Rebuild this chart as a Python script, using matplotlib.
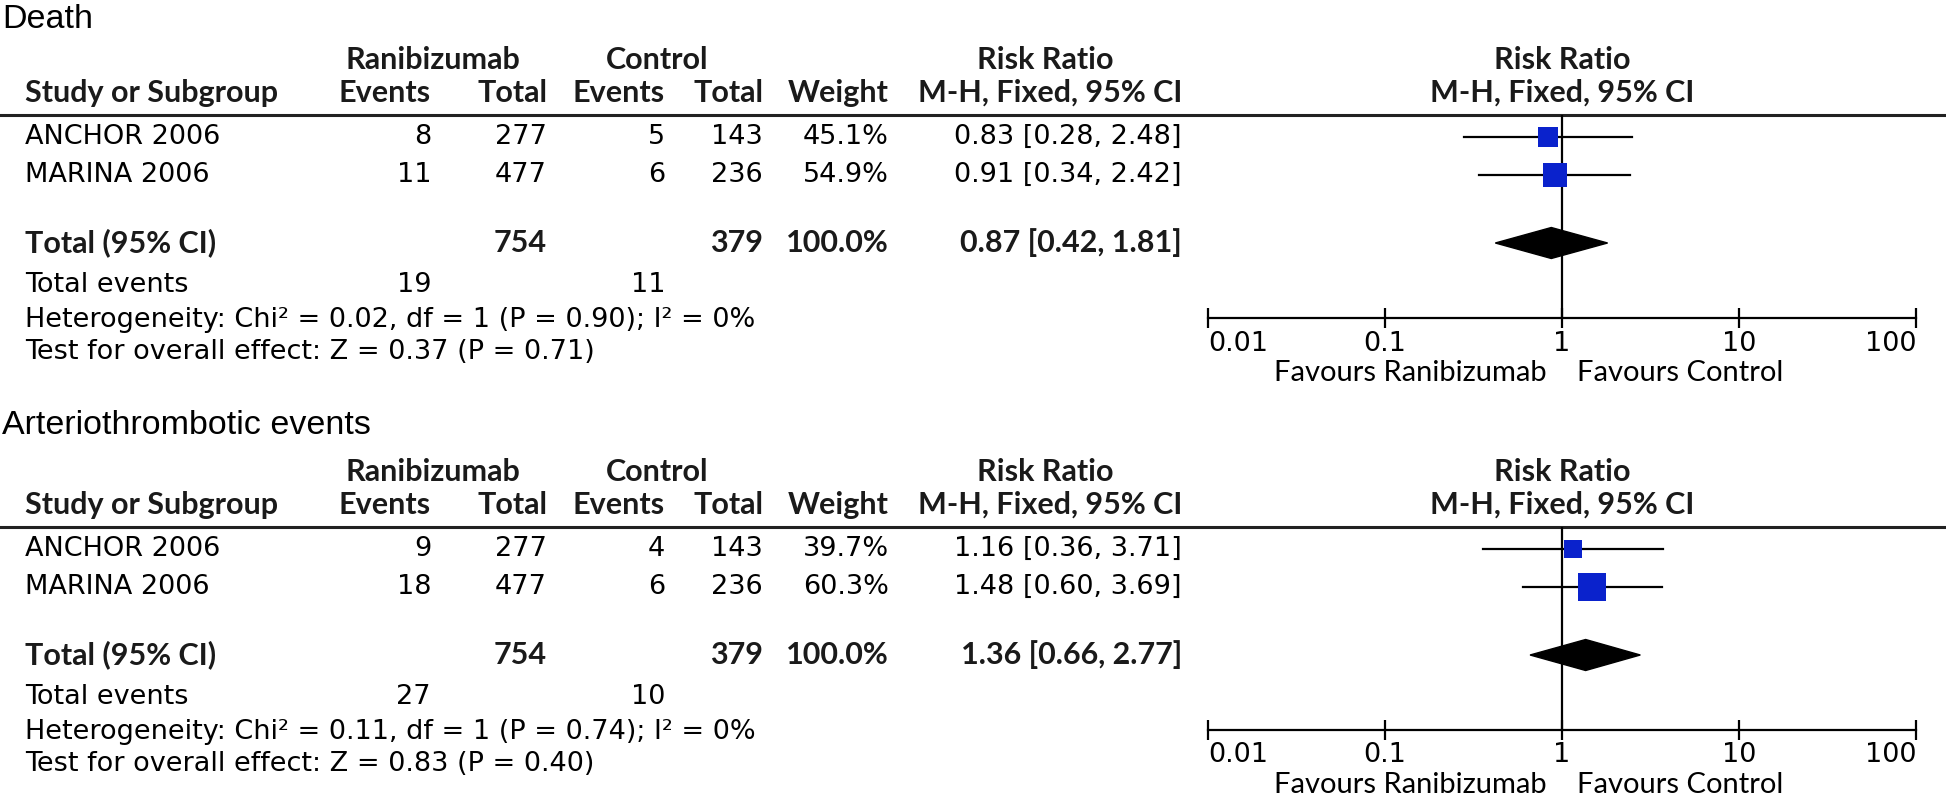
import matplotlib
matplotlib.use("Agg")
from matplotlib import pyplot as plt
from matplotlib.patches import Polygon

# data
titles = ["Death", "Arteriothrombotic events"]
studies = ["ANCHOR 2006", "MARINA 2006"]
ran_total = [277, 477]
ctl_total = [143, 236]

ran_events = [[8, 11], [9, 18]]
ctl_events = [[5, 6], [4, 6]]
weights = [[45.1, 54.9], [39.7, 60.3]]
rr = [[0.83, 0.91], [1.16, 1.48]]
rr_lo = [[0.28, 0.34], [0.36, 0.60]]
rr_hi = [[2.48, 2.42], [3.71, 3.69]]

tot_rr = [0.87, 1.36]
tot_lo = [0.42, 0.66]
tot_hi = [1.81, 2.77]
tot_ran_events = [19, 27]
tot_ctl_events = [11, 10]
chi2 = [0.02, 0.11]
chi2_p = [0.90, 0.74]
i2 = [0, 0]
z_val = [0.37, 0.83]
z_p = [0.71, 0.40]

ticks = [0.01, 0.1, 1, 10, 100]
tick_labels = ["0.01", "0.1", "1", "10", "100"]

W, H = 1946, 802
fig = plt.figure(figsize=(W / 100, H / 100), dpi=100)
bg = fig.add_axes([0, 0, 1, 1])
bg.set_xlim(0, W)
bg.set_ylim(H, 0)
bg.axis("off")

REG = dict(family="DejaVu Sans", fontsize=19.5, color="black")
BOLD = dict(family="Lato", fontsize=22, fontweight="bold", color="#1a1a1a")

# column right edges (pixels)
c_re, c_rt, c_ce, c_ct, c_w, c_rr = 431, 547, 665, 763, 889, 1182
x_left = 25
ax_l, ax_r = 1208, 1916
blue = "#0a22cc"


def txt(x, y, s, style, ha="left"):
    bg.text(x, y, s, ha=ha, va="center", **style)


def draw_panel(p, off, toff):
    bg.text(2, 20 + toff, titles[p], ha="left", va="center",
            family="Liberation Sans", fontsize=24.5)
    # headers
    txt(433, 60 + off, "Ranibizumab", BOLD, "center")
    txt(657, 60 + off, "Control", BOLD, "center")
    txt(1045, 60 + off, "Risk Ratio", BOLD, "center")
    txt(1562, 60 + off, "Risk Ratio", BOLD, "center")
    txt(x_left, 93 + off, "Study or Subgroup", BOLD)
    txt(c_re, 93 + off, "Events", BOLD, "right")
    txt(c_rt, 93 + off, "Total", BOLD, "right")
    txt(c_ce, 93 + off, "Events", BOLD, "right")
    txt(c_ct, 93 + off, "Total", BOLD, "right")
    txt(c_w, 93 + off, "Weight", BOLD, "right")
    txt(c_rr, 93 + off, "M-H, Fixed, 95% CI", BOLD, "right")
    txt(1562, 93 + off, "M-H, Fixed, 95% CI", BOLD, "center")
    bg.plot([0, 1946], [115 + off, 115 + off], color="#222222", lw=2.2)

    row_y = [137 + off, 175 + off]
    for i, name in enumerate(studies):
        y = row_y[i]
        txt(x_left, y, name, REG)
        txt(c_re, y, str(ran_events[p][i]), REG, "right")
        txt(c_rt, y, str(ran_total[i]), REG, "right")
        txt(c_ce, y, str(ctl_events[p][i]), REG, "right")
        txt(c_ct, y, str(ctl_total[i]), REG, "right")
        txt(c_w, y, "%.1f%%" % weights[p][i], REG, "right")
        txt(c_rr, y, "%.2f [%.2f, %.2f]" % (rr[p][i], rr_lo[p][i], rr_hi[p][i]),
            REG, "right")

    ty = 243 + off
    txt(x_left, ty, "Total (95% CI)", BOLD)
    txt(c_rt, ty, str(sum(ran_total)), BOLD, "right")
    txt(c_ct, ty, str(sum(ctl_total)), BOLD, "right")
    txt(c_w, ty, "%.1f%%" % sum(weights[p]), BOLD, "right")
    txt(c_rr, ty, "%.2f [%.2f, %.2f]" % (tot_rr[p], tot_lo[p], tot_hi[p]),
        BOLD, "right")

    txt(x_left, 285 + off, "Total events", REG)
    txt(c_re, 285 + off, str(tot_ran_events[p]), REG, "right")
    txt(c_ce, 285 + off, str(tot_ctl_events[p]), REG, "right")
    txt(x_left, 320 + off,
        "Heterogeneity: Chi\u00b2 = %.2f, df = 1 (P = %.2f); I\u00b2 = %d%%"
        % (chi2[p], chi2_p[p], i2[p]), REG)
    txt(x_left, 352 + off,
        "Test for overall effect: Z = %.2f (P = %.2f)" % (z_val[p], z_p[p]), REG)

    # forest plot
    top, bot = 115 + off, 318 + off
    ax = fig.add_axes([ax_l / W, 1 - bot / H, (ax_r - ax_l) / W, (bot - top) / H])
    ax.set_xscale("log")
    ax.set_xlim(0.01, 100)
    ax.set_ylim(bot, top)
    ax.patch.set_alpha(0)
    for s in ["left", "right", "top"]:
        ax.spines[s].set_visible(False)
    ax.spines["bottom"].set_linewidth(1.6)
    ax.set_yticks([])
    ax.set_xticks(ticks)
    ax.set_xticklabels(tick_labels)
    ax.minorticks_off()
    ax.tick_params(axis="x", direction="inout", length=14, width=1.6, pad=2,
                   labelsize=19.5)
    for lab in ax.get_xticklabels():
        lab.set_family("DejaVu Sans")
    labs = ax.get_xticklabels()
    labs[0].set_ha("left")
    labs[-1].set_ha("right")
    ax.axvline(1, color="black", lw=1.6)

    for i in range(len(studies)):
        ax.plot([rr_lo[p][i], rr_hi[p][i]], [row_y[i], row_y[i]], color="black",
                lw=1.6, zorder=2)
        side = weights[p][i] * 0.45 * 0.72
        ax.scatter([rr[p][i]], [row_y[i]], marker="s", s=side ** 2, color=blue,
                   linewidths=0, zorder=3)
    h = 15.5
    ax.add_patch(Polygon([(tot_lo[p], ty), (tot_rr[p], ty - h), (tot_hi[p], ty),
                          (tot_rr[p], ty + h)], closed=True, color="black",
                         zorder=3))

    txt(1547, 373 + off, "Favours Ranibizumab", dict(REG, family="Lato", fontsize=21), "right")
    txt(1577, 373 + off, "Favours Control", dict(REG, family="Lato", fontsize=21))


draw_panel(0, 0, 0)
draw_panel(1, 412, 406)

fig.savefig("out.png", dpi=100)
